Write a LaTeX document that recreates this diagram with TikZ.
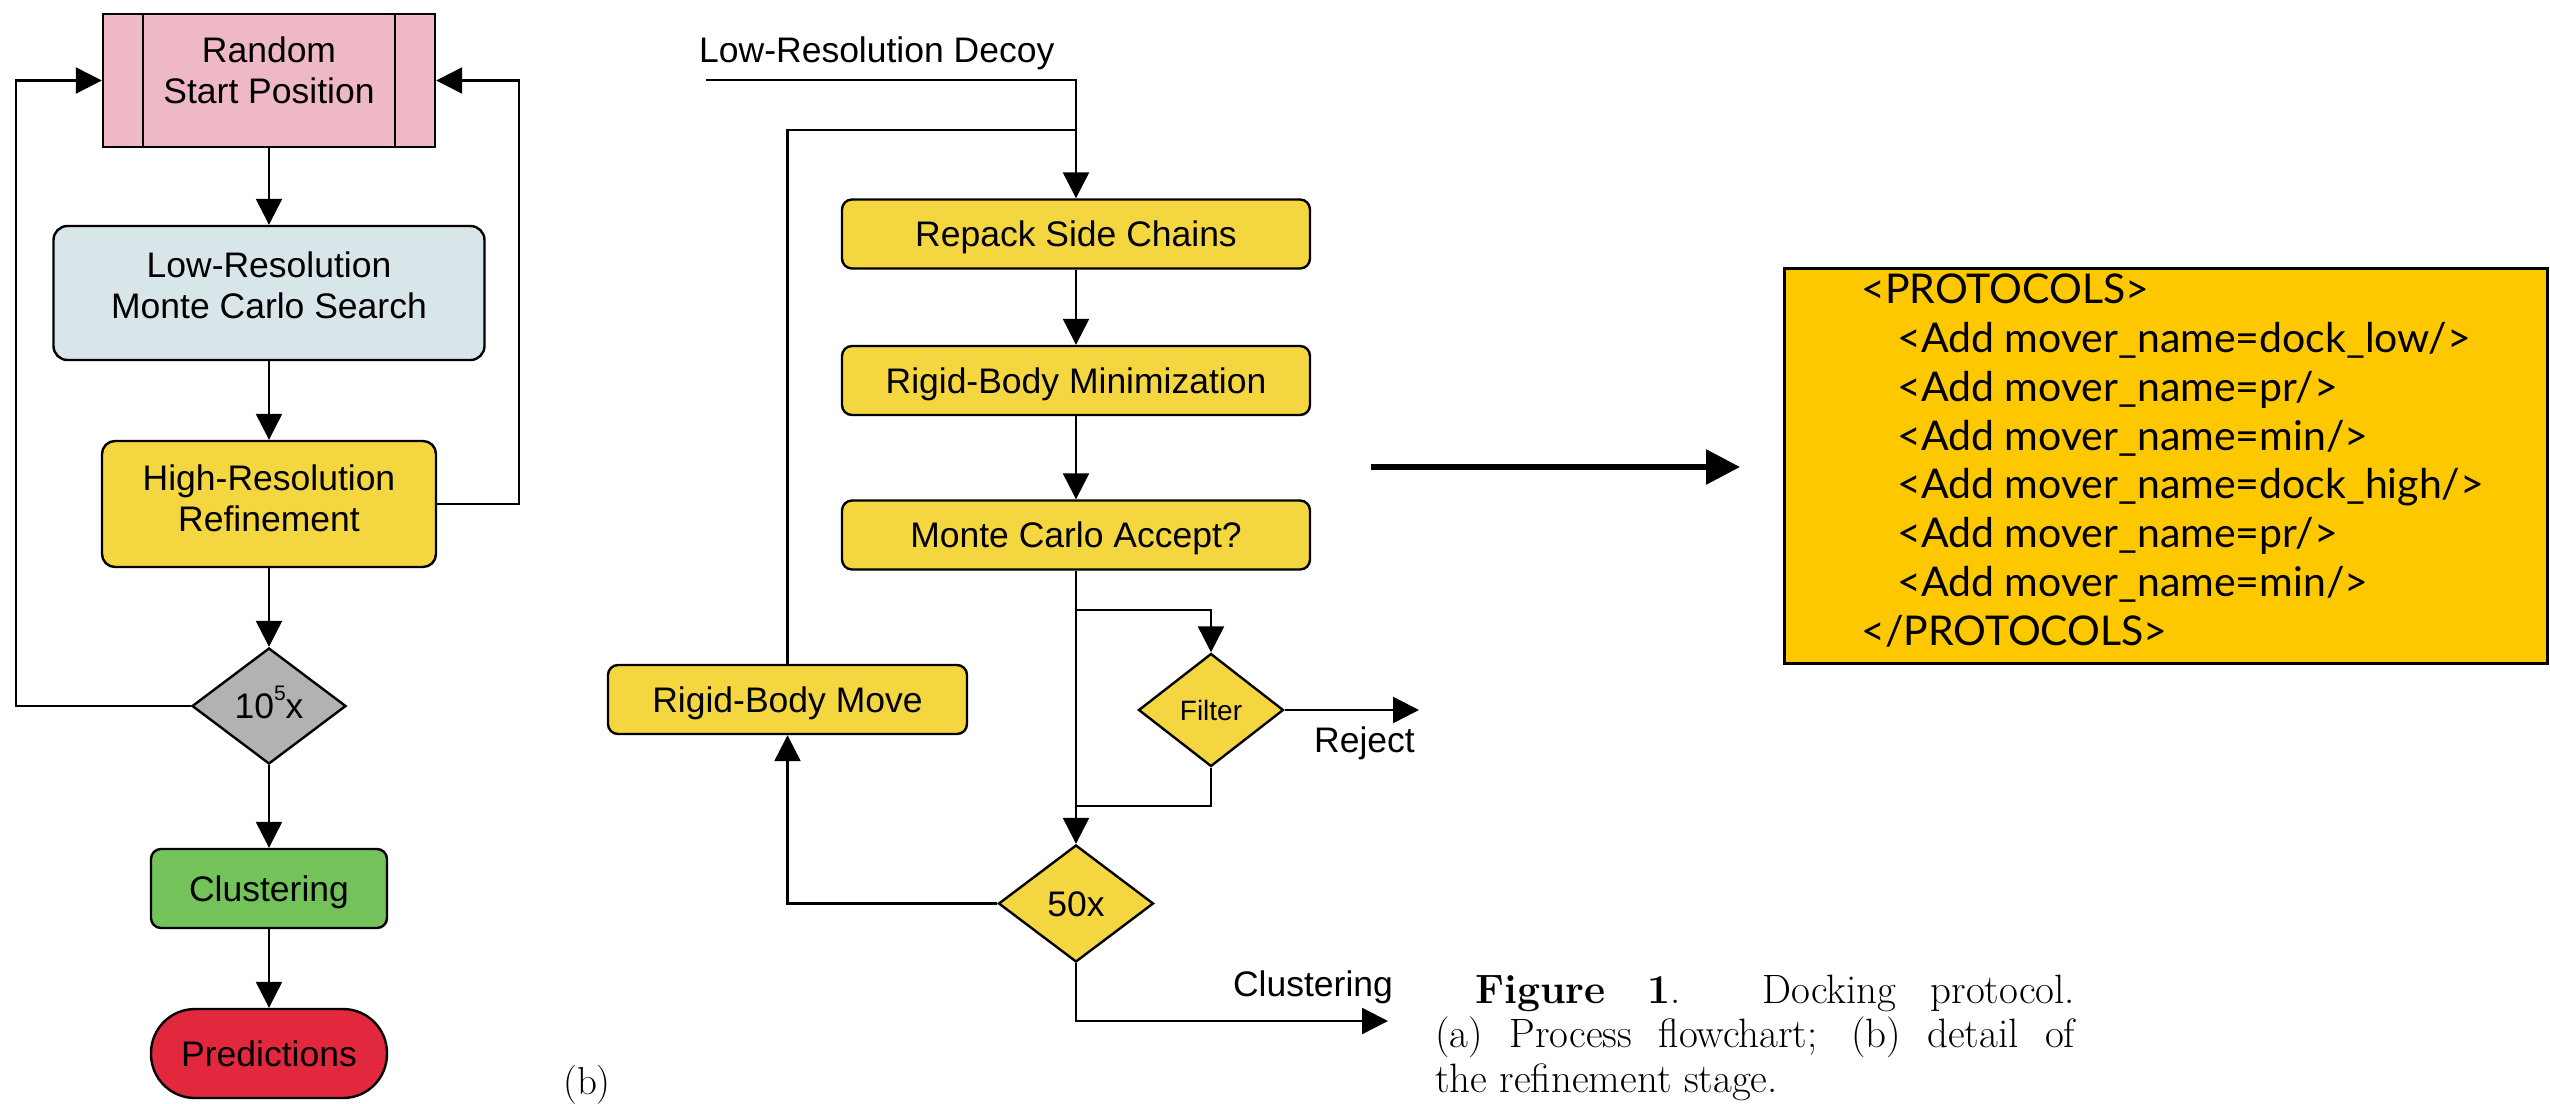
\documentclass[tikz,border=0pt]{standalone}
\usepackage{fontspec}
\newfontfamily\arialf{Liberation Sans}
\newfontfamily\gillf{Lato}
\usetikzlibrary{arrows.meta,shapes.geometric}
\definecolor{pinkc}{HTML}{EFB8C6}
\definecolor{bluec}{HTML}{D8E6E9}
\definecolor{yelc}{HTML}{F4D740}
\definecolor{grayc}{HTML}{B2B2B2}
\definecolor{greenc}{HTML}{74C25A}
\definecolor{redc}{HTML}{E1283C}
\definecolor{goldc}{HTML}{FDC800}
\newcommand{\twoline}[3]{\raisebox{#1}[0pt][0pt]{\begin{tabular}{@{}c@{}}#2\\#3\end{tabular}}}
\begin{document}
\begin{tikzpicture}[x=1pt,y=-1pt,
  box/.style={draw=black, line width=2.4pt, inner sep=0pt,
    font=\arialf\fontsize{35.5}{41}\selectfont, text height=25.4pt, text depth=0pt},
  tbox/.style={box, rectangle, text height=0pt, text depth=0pt},
  ybox/.style={box, rectangle, rounded corners=10pt, fill=yelc, minimum width=468pt, minimum height=69pt},
  dia/.style={box, diamond, fill=yelc},
  arr/.style={line width=2.4pt, -{Triangle[length=26pt,width=26pt]}},
  conn/.style={line width=2.4pt},
  lbl/.style={font=\arialf\fontsize{35.5}{41}\selectfont, inner sep=0pt},
  prot/.style={font=\gillf\fontsize{41}{49}\selectfont, inner sep=0pt, anchor=base west},
  capt/.style={font=\rmfamily\fontsize{41}{44}\selectfont, inner sep=0pt, anchor=base west}
]
\fill[white] (0,0) rectangle (2550,1103);
\useasboundingbox (0,0) rectangle (2550,1103);

% ---------------- panel (a) ----------------
\node[tbox, fill=pinkc, minimum width=332pt, minimum height=133pt] (rsp) at (269,80.5)
  {\twoline{-1pt}{Random}{Start Position}};
\draw[conn] ([xshift=41pt]rsp.north west) -- ([xshift=41pt]rsp.south west);
\draw[conn] ([xshift=-41pt]rsp.north east) -- ([xshift=-41pt]rsp.south east);
\node[tbox, fill=bluec, rounded corners=14pt, minimum width=431pt, minimum height=134pt] (lr) at (269,293)
  {\twoline{-3pt}{Low-Resolution}{Monte Carlo Search}};
\node[tbox, fill=yelc, rounded corners=13pt, minimum width=334pt, minimum height=126pt] (hr) at (269,504)
  {\twoline{-5.5pt}{High-Resolution}{Refinement}};
\node[box, diamond, fill=grayc, minimum width=154pt, minimum height=116pt] (d10) at (269,706)
  {10\raisebox{18pt}{\fontsize{21}{21}\selectfont 5}x};
\node[box, rectangle, fill=greenc, rounded corners=10pt, minimum width=236pt, minimum height=79pt] (clu) at (269,888.5)
  {Clustering};
\node[box, rectangle, fill=redc, rounded corners=44pt, minimum width=236pt, minimum height=89pt] (pred) at (269,1053.5)
  {Predictions};

\draw[arr] (rsp) -- (lr);
\draw[arr] (lr) -- (hr);
\draw[arr] (hr) -- (d10);
\draw[arr] (d10) -- (clu);
\draw[arr] (clu) -- (pred);
\coordinate (lft) at (16,80.5);
\coordinate (rgt) at (519,80.5);
\draw[arr] (d10.west) -| (lft) -- (rsp.west);
\draw[arr] (hr.east) -| (rgt) -- (rsp.east);

\node[font=\rmfamily\fontsize{39}{44}\selectfont, inner sep=0pt, anchor=base] (blab) at (587,1094) {(b)};

% ---------------- panel (b) ----------------
\node[lbl, anchor=base west] (decoy) at (699,62) {Low-Resolution Decoy};
\coordinate (din) at (706,80);
\node[ybox] (rep) at (1076,234) {Repack Side Chains};
\node[ybox] (rbmin) at (1076,380.5) {Rigid-Body Minimization};
\node[ybox] (mca) at (1076,535) {Monte Carlo Accept?};
\node[ybox, minimum width=359pt] (rbm) at (787.5,699.5) {Rigid-Body Move};
\node[dia, minimum width=145pt, minimum height=113pt,
      font=\arialf\fontsize{28}{32}\selectfont, text height=20pt] (filt) at (1211,710) {Filter};
\node[dia, minimum width=155pt, minimum height=117pt] (d50) at (1076,903.5) {50x};
\node[lbl, anchor=base] (rej) at (1364.5,752) {Reject};
\node[lbl, anchor=base] (clab) at (1313,996) {Clustering};

\coordinate (lj) at (1076,130);
\coordinate (br) at (1076,610);
\coordinate (jn) at (1076,806);
\coordinate (rejtip) at (1419,710);
\coordinate (clt) at (1388,1021);

\draw[arr] (din) -| (rep.north);
\draw[conn] (rbm.north) |- (lj);
\draw[arr] (rep) -- (rbmin);
\draw[arr] (rbmin) -- (mca);
\draw[arr] (mca.south) -- (d50.north);
\draw[arr] (br) -| (filt.north);
\draw[arr] (filt.east) -- (rejtip);
\draw[conn] (filt.south) |- (jn);
\draw[arr] (d50.west) -| (rbm.south);
\draw[arr] (d50.south) |- (clt);

% ---------------- protocol box ----------------
\coordinate (ta) at (1371,467);
\coordinate (tb) at (1740,467);
\draw[line width=6pt, -{Triangle[length=34pt,width=34pt]}] (ta) -- (tb);
\node[draw=black, line width=3pt, fill=goldc, minimum width=763pt, minimum height=395pt, inner sep=0pt] (proto) at (2165.5,465.5) {};
\node[prot] (p1) at (1861,303) {<PROTOCOLS>};
\node[prot] (p2) at (1897,352) {<Add mover\_name=dock\_low/>};
\node[prot] (p3) at (1897,401) {<Add mover\_name=pr/>};
\node[prot] (p4) at (1897,450) {<Add mover\_name=min/>};
\node[prot] (p5) at (1897,498) {<Add mover\_name=dock\_high/>};
\node[prot] (p6) at (1897,547) {<Add mover\_name=pr/>};
\node[prot] (p7) at (1897,596) {<Add mover\_name=min/>};
\node[prot] (p8) at (1861,645) {</PROTOCOLS>};

% ---------------- caption ----------------
\node[capt] (c1) at (1475,1003) {\makebox[600pt][s]{\textbf{Figure 1}. Docking protocol.}};
\node[capt] (c2) at (1435,1047) {\makebox[640pt][s]{(a) Process flowchart; (b) detail of}};
\node[capt] (c3) at (1435,1092) {the refinement stage.};
\end{tikzpicture}
\end{document}
